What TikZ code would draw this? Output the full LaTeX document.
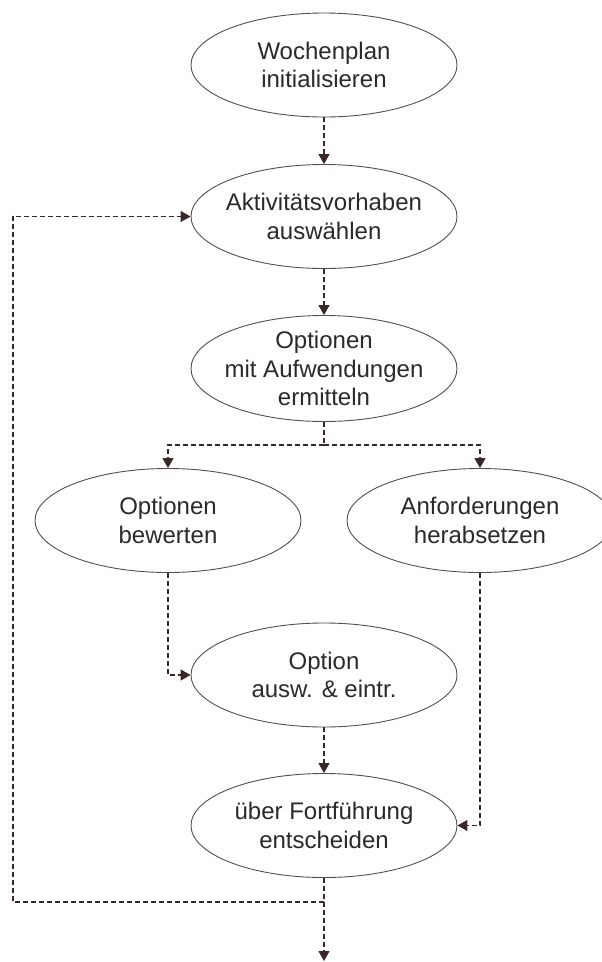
\documentclass[tikz,border=0pt]{standalone}
\usepackage{fontspec}
\setmainfont{Liberation Sans}
\usetikzlibrary{arrows.meta,shapes.geometric}
\definecolor{linec}{HTML}{3A2828}
\definecolor{outlinec}{HTML}{505050}
\definecolor{textc}{HTML}{2A2A2A}
\begin{document}
\begin{tikzpicture}[x=1pt,y=-1pt,
  stage/.style={ellipse, draw=outlinec, line width=0.9pt, minimum width=266pt,
    minimum height=104pt, inner sep=0pt},
  stagetext/.style={align=center, text=textc, inner sep=0pt,
    font=\fontsize{24}{28.5}\selectfont},
  flow/.style={draw=linec, line width=1.2pt, dash pattern=on 5pt off 3pt},
  flowarrow/.style={flow, -{Triangle[length=10pt,width=11pt]}}]
  \clip (0,0) rectangle (602,962);
  \fill[white] (0,0) rectangle (602,962);

  % process steps: fixed-size ellipses, text set on top
  \node[stage] (init)   at (324,65)    {};
  \node[stage] (select) at (324,216.5) {};
  \node[stage, minimum height=106pt] (opts) at (324,368.5) {};
  \node[stage] (rate)   at (168,520.5) {};
  \node[stage] (lower)  at (480,520.5) {};
  \node[stage] (choose) at (324,675)   {};
  \node[stage] (decide) at (324,825.5) {};

  \node[stagetext] (initT)   at (init)   {Wochenplan\\initialisieren};
  \node[stagetext] (selectT) at (select) {Aktivitätsvorhaben\\auswählen};
  \node[stagetext] (optsT)   at (opts)   {Optionen\\mit Aufwendungen\\ermitteln};
  \node[stagetext] (rateT)   at (rate)   {Optionen\\bewerten};
  \node[stagetext] (lowerT)  at (lower)  {Anforderungen\\herabsetzen};
  \node[stagetext] (chooseT) at (choose) {Option\\ausw. \& eintr.};
  \node[stagetext] (decideT) at (decide) {über Fortführung\\entscheiden};

  % helper points
  \coordinate (fork)   at (324,445);
  \coordinate (split)  at (324,902);
  \coordinate (loopbl) at (13,902);
  \coordinate (looptl) at (13,216.5);
  \coordinate (exitpt) at (324,961);

  % connectors
  \draw[flowarrow] (init) -- (select);
  \draw[flowarrow] (select) -- (opts);
  \draw[flow] (opts.south) -- (fork);
  \draw[flowarrow] (fork) -| (rate.north);
  \draw[flowarrow] (fork) -| (lower.north);
  \draw[flowarrow] (rate.south) |- (choose.west);
  \draw[flowarrow] (choose) -- (decide);
  \draw[flowarrow] (lower.south) |- (decide.east);
  \draw[flowarrow] (decide.south) -- (exitpt);
  \draw[flowarrow] (split) -- (loopbl) -- (looptl) -- (select.west);
\end{tikzpicture}
\end{document}
